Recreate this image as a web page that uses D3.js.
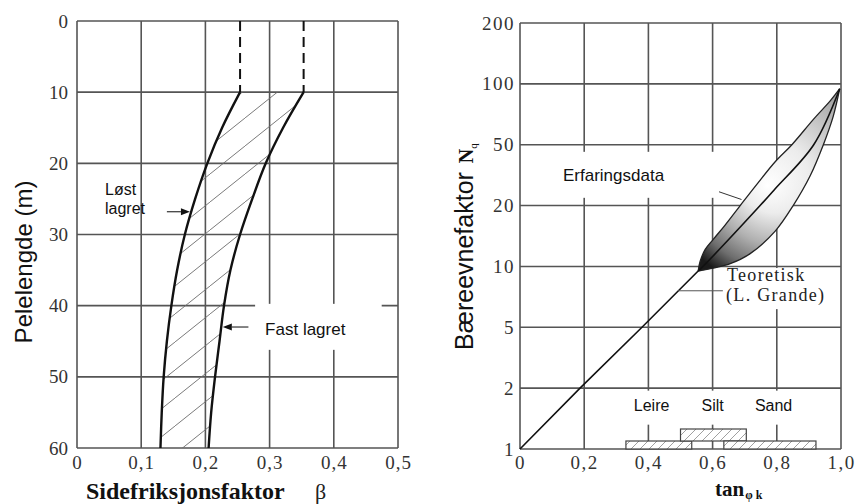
<!DOCTYPE html>
<html><head><meta charset="utf-8">
<script src="https://cdn.jsdelivr.net/npm/d3@7/dist/d3.min.js"></script>
<style>body{margin:0;background:#fff}svg{display:block}</style>
</head><body>
<svg id="chart" width="855" height="504"></svg>
<script>
// ---------------- DATA ----------------
// Left chart: side friction factor beta vs pile length
const depthTicks = [0, 10, 20, 30, 40, 50, 60];
const betaTicks = [0, 0.1, 0.2, 0.3, 0.4, 0.5];
const loseDepth = [10, 15, 20, 25, 30, 35, 40, 45, 50, 55, 60];
const loseBeta  = [0.254, 0.226, 0.203, 0.184, 0.168, 0.156, 0.147, 0.140, 0.135, 0.132, 0.130];
const fastDepth = [10, 15, 20, 25, 30, 35, 40, 45, 50, 55, 60];
const fastBeta  = [0.353, 0.321, 0.294, 0.273, 0.254, 0.239, 0.229, 0.222, 0.215, 0.209, 0.205];
const dashDepth = [0, 10];

// Right chart: bearing capacity factor Nq vs tan(phi_k)
const nqTicks  = [1, 2, 5, 10, 20, 50, 100, 200];
const tanTicks = [0, 0.2, 0.4, 0.6, 0.8, 1.0];
const theoTan  = [0, 0.187, 0.38, 0.555];
const theoNq   = [1, 2, 5, 9.62];
const midTan   = [0.555, 0.570, 0.748, 0.795, 0.915, 0.996];
const midNq    = [9.62, 10, 20, 28.3, 50, 96];
const upperTan = [0.555, 0.561, 0.577, 0.602, 0.639, 0.686, 0.739, 0.795, 0.847, 0.914, 0.967, 0.996];
const upperNq  = [9.62, 10.8, 12.8, 14.45, 16.8, 20, 30.7, 41.6, 50, 70.8, 86.2, 96];
const lowerTan = [0.555, 0.602, 0.655, 0.717, 0.795, 0.851, 0.904, 0.945, 0.976, 0.996];
const lowerNq  = [9.62, 9.86, 10.45, 12.1, 15.8, 20, 34.7, 50, 73.5, 96];
const soilNames = ["Leire", "Silt", "Sand"];
const soilFrom  = [0.33, 0.50, 0.635];
const soilTo    = [0.535, 0.705, 0.922];
const soilRow   = [0, 1, 0];
const soilLabelAt = [0.41, 0.60, 0.79];

// ---------------- SETUP ----------------
const svg = d3.select("#chart");
const SERIF = "'Liberation Serif','Times New Roman',serif";
const SANS = "'Liberation Sans',Arial,sans-serif";
const GRID = "#555";
const fmtComma = d => d === 0 ? "0" : d3.format(".1f")(d).replace(".", ",");
const defs = svg.append("defs");

function whiteBox(g, textSel, pad) {
  const b = textSel.node().getBBox();
  g.insert("rect", ":first-child")
    .attr("x", b.x - pad[0]).attr("y", b.y - pad[1])
    .attr("width", b.width + pad[0] + pad[2]).attr("height", b.height + pad[1] + pad[3])
    .attr("fill", "#fff");
}
function arrow(g, x1, y1, x2, y2) {
  const L = 9, Wd = 3.6;
  const ang = Math.atan2(y2 - y1, x2 - x1);
  const bx = x2 - L * Math.cos(ang), by = y2 - L * Math.sin(ang);
  g.append("line").attr("x1", x1).attr("y1", y1).attr("x2", bx).attr("y2", by)
    .attr("stroke", "#333").attr("stroke-width", 1.2);
  g.append("path").attr("d",
    `M${x2},${y2}L${bx - Wd * Math.sin(ang)},${by + Wd * Math.cos(ang)}L${bx + Wd * Math.sin(ang)},${by - Wd * Math.cos(ang)}Z`)
    .attr("fill", "#111");
}
function interp(ys, xs, y) {
  for (let i = 1; i < ys.length; i++) if (y <= ys[i]) {
    const t = (y - ys[i - 1]) / (ys[i] - ys[i - 1]);
    return xs[i - 1] + t * (xs[i] - xs[i - 1]);
  }
  return xs[xs.length - 1];
}

// ---------------- LEFT CHART ----------------
const xL = d3.scaleLinear().domain([0, 0.5]).range([77, 398]);
const yL = d3.scaleLinear().domain([0, 60]).range([21, 448]);
const gL = svg.append("g");

const hL = defs.append("pattern").attr("id", "hatchL").attr("patternUnits", "userSpaceOnUse")
  .attr("width", 35).attr("height", 28).attr("y", 6);
hL.append("path").attr("d", "M0,28L35,0").attr("stroke", "#6a6a6a").attr("stroke-width", 0.9);
const hS = defs.append("pattern").attr("id", "hatchS").attr("patternUnits", "userSpaceOnUse")
  .attr("width", 9).attr("height", 9);
hS.append("path").attr("d", "M0,9L9,0").attr("stroke", "#888").attr("stroke-width", 0.8);

gL.append("g").selectAll("line").data(depthTicks).join("line")
  .attr("x1", xL(0)).attr("x2", xL(0.5)).attr("y1", d => yL(d)).attr("y2", d => yL(d))
  .attr("stroke", GRID).attr("stroke-width", 1.6);
gL.append("g").selectAll("line").data(betaTicks).join("line")
  .attr("y1", yL(0)).attr("y2", yL(60)).attr("x1", d => xL(d)).attr("x2", d => xL(d))
  .attr("stroke", GRID).attr("stroke-width", 1.6);

const axL = gL.append("g").attr("transform", `translate(${xL(0)},0)`)
  .call(d3.axisLeft(yL).tickValues(depthTicks).tickSize(0).tickPadding(9).tickFormat(d3.format("d")));
const axLB = gL.append("g").attr("transform", `translate(0,${yL(60)})`)
  .call(d3.axisBottom(xL).tickValues(betaTicks).tickSize(0).tickPadding(8).tickFormat(fmtComma));
[axL, axLB].forEach(a => {
  a.select(".domain").remove();
  a.selectAll("text").attr("font-family", SERIF).attr("font-size", 19).attr("fill", "#333");
});
axLB.selectAll("text").attr("letter-spacing", 1);

// label "Fast lagret" with white box
const fastLab = gL.append("g");
const fastTxt = fastLab.append("text").attr("x", xL(0.293)).attr("y", yL(44.1))
  .attr("font-family", SANS).attr("font-size", 17).attr("fill", "#111").text("Fast lagret");
whiteBox(fastLab, fastTxt, [10, 16, 36, 11]);

// hatched band
const line = d3.line().curve(d3.curveCatmullRom.alpha(0.5));
const losePts = loseDepth.map((d, i) => [xL(loseBeta[i]), yL(d)]);
const fastPts = fastDepth.map((d, i) => [xL(fastBeta[i]), yL(d)]);
gL.append("path").attr("d", line(losePts) + "L" + line(fastPts.slice().reverse()).slice(1) + "Z")
  .attr("fill", "url(#hatchL)").attr("stroke", "none");
[losePts, fastPts].forEach(p => gL.append("path").attr("d", line(p))
  .attr("fill", "none").attr("stroke", "#111").attr("stroke-width", 2.4));
[loseBeta[0], fastBeta[0]].forEach(b => gL.append("line")
  .attr("x1", xL(b)).attr("x2", xL(b)).attr("y1", yL(dashDepth[0])).attr("y2", yL(dashDepth[1]))
  .attr("stroke", "#111").attr("stroke-width", 2).attr("stroke-dasharray", "10,6"));

// "Løst lagret"
const lt = gL.append("text").attr("font-family", SANS).attr("font-size", 16).attr("fill", "#111");
lt.append("tspan").attr("x", xL(0.0436)).attr("y", yL(24.5)).text("Løst");
lt.append("tspan").attr("x", xL(0.0436)).attr("y", yL(27.15)).text("lagret");
arrow(gL, xL(0.140), yL(26.8), xL(interp(loseDepth, loseBeta, 26.8)) - 1.5, yL(26.8));
arrow(gL, xL(0.267), yL(43.0), xL(interp(fastDepth, fastBeta, 43.0)) + 1.5, yL(43.0));

// titles
svg.append("text").attr("transform", "translate(32,262) rotate(-90)")
  .attr("text-anchor", "middle").attr("font-family", SANS).attr("font-size", 24).attr("fill", "#111")
  .text("Pelelengde (m)");
svg.append("text").attr("x", 86).attr("y", 499).attr("font-family", SERIF).attr("font-weight", "bold")
  .attr("font-size", 24).attr("fill", "#111").text("Sidefriksjonsfaktor");
svg.append("text").attr("x", 315).attr("y", 499).attr("font-family", SERIF)
  .attr("font-size", 22).attr("fill", "#222").text("β");

// ---------------- RIGHT CHART ----------------
const xR = d3.scaleLinear().domain([0, 1]).range([520, 841]);
const yTop = 23, yBot = 449;
const yR = d3.scaleLinear().domain(nqTicks)
  .range(nqTicks.map((d, i) => yBot - i * (yBot - yTop) / (nqTicks.length - 1)));
const gR = svg.append("g");

// lens gradient (light spot upper-middle, dark tip)
const rg = defs.append("radialGradient").attr("id", "lensGrad").attr("gradientUnits", "userSpaceOnUse")
  .attr("cx", xR(0.86)).attr("cy", yR(45)).attr("r", 140)
  .attr("fx", xR(0.77)).attr("fy", yR(29.7));
[[0, "#ffffff"], [0.25, "#ececec"], [0.55, "#b0b0b0"], [0.8, "#6e6e6e"], [1, "#1a1a1a"]].forEach(([o, c]) =>
  rg.append("stop").attr("offset", o).attr("stop-color", c));

gR.append("g").selectAll("line").data(nqTicks).join("line")
  .attr("x1", xR(0)).attr("x2", xR(1)).attr("y1", d => yR(d)).attr("y2", d => yR(d))
  .attr("stroke", GRID).attr("stroke-width", 1.6);
gR.append("g").selectAll("line").data(tanTicks).join("line")
  .attr("y1", yR(1)).attr("y2", yR(200)).attr("x1", d => xR(d)).attr("x2", d => xR(d))
  .attr("stroke", GRID).attr("stroke-width", 1.6);

const axR = gR.append("g").attr("transform", `translate(${xR(0)},0)`)
  .call(d3.axisLeft(yR).tickValues(nqTicks).tickSize(0).tickPadding(5).tickFormat(d3.format("d")));
const axRB = gR.append("g").attr("transform", `translate(0,${yR(1)})`)
  .call(d3.axisBottom(xR).tickValues(tanTicks).tickSize(0).tickPadding(7).tickFormat(fmtComma));
[axR, axRB].forEach(a => {
  a.select(".domain").remove();
  a.selectAll("text").attr("font-family", SERIF).attr("font-size", 19).attr("fill", "#333")
    .attr("letter-spacing", 1.5);
});

// Erfaringsdata label + box
const erfG = gR.append("g");
const erfT = erfG.append("text").attr("x", xR(0.134)).attr("y", yR(32.2))
  .attr("font-family", SANS).attr("font-size", 17).attr("fill", "#111").text("Erfaringsdata");
whiteBox(erfG, erfT, [33, 14, 56, 13]);

// Teoretisk label + box
const teoG = gR.append("g");
const teoT = teoG.append("text").attr("font-family", SERIF).attr("font-size", 18)
  .attr("letter-spacing", 1.3).attr("fill", "#222");
teoT.append("tspan").attr("x", xR(0.645)).attr("y", yR(8.8)).text("Teoretisk");
teoT.append("tspan").attr("x", xR(0.642)).attr("y", yR(7.15)).text("(L. Grande)");
whiteBox(teoG, teoT, [4, -3, 2, 3]);

// Soil labels + box
const soilG = gR.append("g");
const soilT = soilG.append("g");
soilT.selectAll("text").data(soilNames).join("text")
  .attr("x", (d, i) => xR(soilLabelAt[i])).attr("y", yR(1.63)).attr("text-anchor", "middle")
  .attr("font-family", SANS).attr("font-size", 16).attr("fill", "#111").text(d => d);
whiteBox(soilG, soilT, [36, 6, 42, 11]);

// soil boxes
const rowH = [8, 12];
const rowY = r => r === 0 ? yR(1) - rowH[0] : yR(1) - rowH[0] - rowH[1];
soilNames.forEach((s, i) => {
  const x0 = xR(soilFrom[i]), x1 = xR(soilTo[i]), y0 = rowY(soilRow[i]);
  const h = rowH[soilRow[i]];
  gR.append("rect").attr("x", x0).attr("y", y0).attr("width", x1 - x0).attr("height", h).attr("fill", "#fff");
  gR.append("rect").attr("x", x0).attr("y", y0).attr("width", x1 - x0).attr("height", h)
    .attr("fill", "url(#hatchS)").attr("stroke", "#444").attr("stroke-width", 1.2);
});

// theoretical line
const lineR = d3.line();
gR.append("path").attr("d", lineR(theoTan.map((t, i) => [xR(t), yR(theoNq[i])])))
  .attr("fill", "none").attr("stroke", "#111").attr("stroke-width", 1.6);

// lens
const smooth = d3.line().curve(d3.curveCatmullRom.alpha(0.5));
const upPts = upperTan.map((t, i) => [xR(t), yR(upperNq[i])]);
const loPts = lowerTan.map((t, i) => [xR(t), yR(lowerNq[i])]);
gR.append("path").attr("d", smooth(upPts) + "L" + smooth(loPts.slice().reverse()).slice(1) + "Z")
  .attr("fill", "url(#lensGrad)").attr("stroke", "#222").attr("stroke-width", 1.3);
gR.append("path").attr("d", smooth(midTan.map((t, i) => [xR(t), yR(midNq[i])])))
  .attr("fill", "none").attr("stroke", "#111").attr("stroke-width", 1.6);

// leader lines
gR.append("line").attr("x1", xR(0.62)).attr("y1", yR(26.8)).attr("x2", xR(0.69)).attr("y2", yR(23))
  .attr("stroke", "#333").attr("stroke-width", 1);
gR.append("line").attr("x1", xR(0.492)).attr("y1", yR(8.0)).attr("x2", xR(0.632)).attr("y2", yR(8.0))
  .attr("stroke", "#555").attr("stroke-width", 1);

// titles
const yt = svg.append("text").attr("transform", "translate(473,350) rotate(-90)").attr("fill", "#111");
yt.append("tspan").attr("font-family", SANS).attr("font-size", 25).text("Bæreevnefaktor");
yt.append("tspan").attr("dx", 9).attr("font-family", SERIF).attr("font-weight", "bold").attr("font-size", 20).text("N");
yt.append("tspan").attr("dy", 4).attr("font-family", SERIF).attr("font-size", 11).text("q");
const xt = svg.append("text").attr("x", 715).attr("y", 496).attr("fill", "#111")
  .attr("font-family", SERIF).attr("font-weight", "bold");
xt.append("tspan").attr("font-size", 21).text("tan");
xt.append("tspan").attr("dy", 3).attr("dx", 1).attr("font-size", 12).text("φ k");
</script>
</body></html>
